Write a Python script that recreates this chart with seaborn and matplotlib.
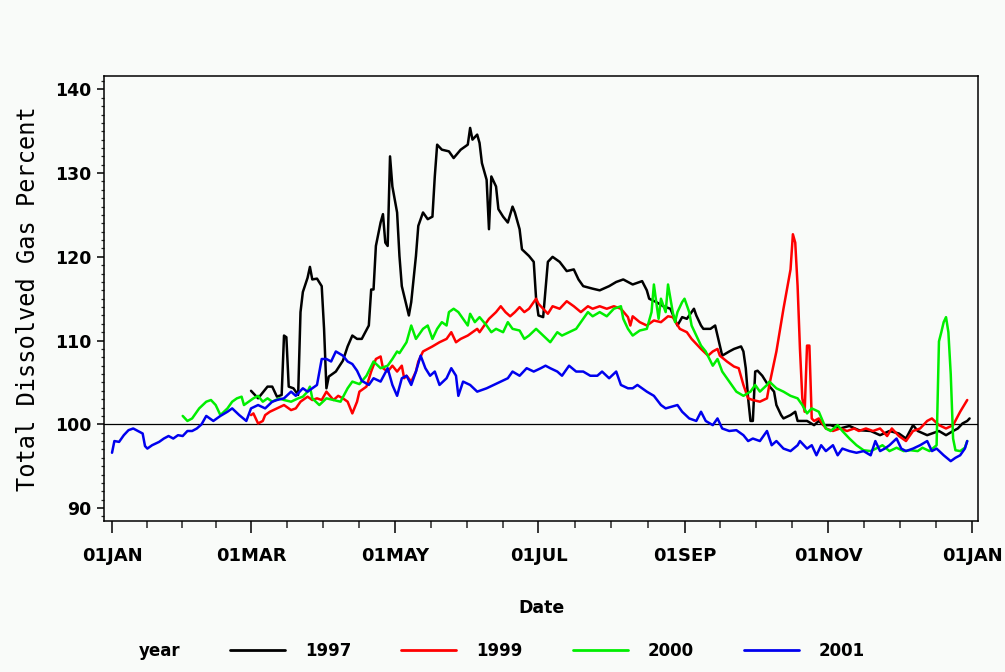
import matplotlib
matplotlib.use("Agg")
import matplotlib.pyplot as plt
from matplotlib.lines import Line2D
from matplotlib.ticker import FixedLocator, MultipleLocator
import pandas as pd
import seaborn as sns

# (day of year, 0 = 1 January; total dissolved gas percent) readings per season
season_1997 = [
    (59, 104.0), (62, 103.1), (66, 104.5), (68, 104.5), (70, 103.3), (72, 103.5),
    (73, 110.6), (74, 110.4), (75, 104.5), (77, 104.3), (79, 103.5), (80, 113.4),
    (81, 115.8), (83, 117.5), (84, 118.8), (85, 117.3), (87, 117.4), (89, 116.5),
    (90, 111.4), (91, 104.3), (92, 105.7), (95, 106.3), (98, 107.6), (100, 109.3),
    (102, 110.6), (104, 110.2), (106, 110.2), (109, 111.8), (110, 116.1), (111, 116.1),
    (112, 121.3), (114, 124.1), (115, 125.1), (116, 121.7), (117, 121.3), (118, 132.0),
    (119, 128.4), (121, 125.3), (122, 120.1), (123, 116.5), (126, 113.0), (127, 114.6),
    (129, 120.1), (130, 123.7), (132, 125.3), (134, 124.5), (136, 124.8), (137, 129.6),
    (138, 133.4), (140, 132.8), (143, 132.6), (145, 131.8), (148, 132.8), (151, 133.4),
    (152, 135.4), (153, 134.0), (155, 134.6), (156, 133.6), (157, 131.2), (159, 129.2),
    (160, 123.3), (161, 129.6), (163, 128.4), (164, 125.7), (166, 124.8), (168, 124.1),
    (170, 126.0), (171, 125.3), (173, 123.3), (174, 120.9), (177, 120.1), (179, 119.4),
    (180, 115.0), (181, 113.0), (183, 112.8), (185, 119.4), (187, 120.0), (190, 119.4),
    (193, 118.3), (196, 118.5), (198, 117.3), (200, 116.5), (204, 116.2), (207, 116.0),
    (211, 116.5), (214, 117.0), (217, 117.3), (221, 116.7), (225, 117.1), (227, 116.0),
    (228, 115.0), (231, 114.6), (234, 114.1), (237, 113.8), (240, 111.8), (242, 112.8),
    (244, 112.6), (247, 113.8), (248, 113.0), (250, 111.8), (251, 111.4), (254, 111.4),
    (256, 111.8), (258, 109.4), (259, 108.2), (262, 108.7), (264, 109.0), (267, 109.3),
    (268, 108.7), (269, 106.7), (270, 103.1), (271, 100.4), (272, 100.4), (273, 106.3),
    (274, 106.4), (276, 105.8), (278, 104.9), (281, 103.9), (282, 102.3), (284, 101.1),
    (285, 100.7), (288, 101.1), (290, 101.5), (291, 100.4), (295, 100.4), (298, 99.9),
    (300, 100.4), (302, 99.9), (305, 99.9), (309, 99.5), (313, 99.8), (317, 99.3),
    (322, 99.2), (326, 98.7), (330, 99.2), (334, 98.9), (337, 98.3), (340, 99.9),
    (342, 99.2), (346, 98.7), (348, 98.9), (351, 99.2), (354, 98.7), (357, 99.2),
    (359, 99.5), (361, 100.1), (363, 100.4), (364, 100.7),
]

season_1999 = [
    (59, 101.1), (60, 101.3), (62, 100.1), (64, 100.4), (65, 101.1), (67, 101.5),
    (70, 101.9), (73, 102.3), (76, 101.7), (78, 101.9), (80, 102.7), (83, 103.3),
    (85, 102.9), (87, 103.1), (89, 102.9), (91, 103.9), (94, 102.9), (96, 103.4),
    (98, 103.1), (100, 102.7), (102, 101.3), (104, 102.7), (105, 103.9), (108, 104.5),
    (110, 106.3), (112, 107.8), (114, 108.1), (115, 106.7), (117, 106.3), (119, 107.0),
    (121, 106.3), (123, 107.0), (124, 105.5), (125, 105.8), (127, 105.1), (129, 106.3),
    (130, 107.5), (132, 108.7), (134, 109.0), (136, 109.3), (139, 109.8), (142, 110.2),
    (144, 111.0), (146, 109.8), (148, 110.2), (151, 110.6), (153, 111.0), (155, 111.4),
    (156, 111.0), (158, 111.8), (160, 112.6), (163, 113.4), (165, 114.1), (167, 113.4),
    (169, 112.9), (171, 113.4), (173, 114.0), (175, 113.4), (177, 113.8), (180, 115.0),
    (181, 114.4), (183, 113.8), (185, 113.2), (187, 114.1), (190, 113.8), (193, 114.7),
    (196, 114.1), (199, 113.4), (202, 114.1), (204, 113.8), (207, 114.1), (210, 113.8),
    (213, 114.1), (216, 113.8), (219, 112.8), (220, 111.8), (221, 112.9), (224, 112.2),
    (227, 111.8), (230, 112.4), (233, 112.2), (236, 112.9), (238, 112.8), (241, 111.4),
    (244, 111.0), (246, 110.2), (250, 109.0), (253, 108.2), (255, 108.7), (257, 109.0),
    (258, 108.2), (261, 107.5), (264, 106.9), (266, 106.7), (268, 104.7), (270, 103.1),
    (272, 102.9), (275, 102.7), (278, 103.1), (279, 104.7), (282, 108.7), (285, 113.8),
    (288, 118.5), (289, 122.7), (290, 121.7), (291, 116.5), (292, 109.0), (293, 103.1),
    (294, 101.5), (295, 109.4), (296, 109.4), (297, 100.7), (298, 100.4), (300, 100.7),
    (303, 99.5), (306, 99.2), (309, 99.5), (312, 99.2), (315, 99.5), (317, 99.2),
    (320, 99.5), (323, 99.2), (326, 99.5), (329, 98.6), (331, 99.5), (334, 98.6),
    (337, 98.0), (340, 99.2), (343, 99.5), (346, 100.4), (348, 100.7), (351, 99.9),
    (354, 99.5), (357, 99.9), (360, 101.5), (363, 102.9),
]

season_2000 = [
    (30, 101.0), (32, 100.4), (34, 100.7), (37, 101.9), (40, 102.7), (42, 102.9),
    (44, 102.3), (46, 101.1), (49, 101.9), (51, 102.7), (53, 103.1), (55, 103.3),
    (56, 102.3), (58, 102.7), (60, 103.1), (62, 103.4), (64, 102.7), (66, 103.1),
    (68, 102.7), (71, 103.1), (73, 102.9), (76, 102.7), (79, 103.1), (81, 103.3),
    (83, 103.9), (84, 104.5), (85, 103.1), (88, 102.3), (91, 103.1), (94, 102.9),
    (97, 102.7), (100, 104.3), (102, 105.1), (105, 104.8), (108, 105.8), (111, 107.5),
    (114, 106.7), (117, 107.0), (119, 107.8), (121, 108.7), (122, 108.5), (125, 109.8),
    (127, 111.8), (129, 110.2), (132, 111.4), (134, 111.8), (136, 110.2), (138, 111.4),
    (140, 112.2), (142, 111.8), (143, 113.4), (145, 113.8), (147, 113.4), (149, 112.6),
    (151, 111.8), (152, 113.2), (154, 112.2), (156, 112.8), (159, 111.8), (161, 111.0),
    (163, 111.4), (166, 111.0), (168, 112.2), (170, 111.4), (173, 111.2), (175, 110.2),
    (177, 110.6), (180, 111.4), (183, 110.6), (186, 109.8), (189, 111.0), (191, 110.6),
    (194, 111.0), (197, 111.4), (199, 112.2), (202, 113.4), (204, 112.9), (207, 113.4),
    (210, 112.9), (213, 113.8), (216, 114.1), (217, 112.6), (219, 111.4), (221, 110.6),
    (224, 111.2), (227, 111.4), (229, 113.4), (230, 116.7), (231, 114.6), (232, 112.6),
    (233, 115.0), (235, 113.4), (236, 116.7), (238, 113.4), (239, 112.2), (240, 113.4),
    (242, 114.6), (243, 115.0), (245, 113.4), (246, 111.8), (248, 110.6), (250, 109.4),
    (252, 108.7), (255, 107.0), (257, 107.8), (259, 106.3), (262, 105.1), (265, 103.9),
    (268, 103.4), (271, 103.9), (273, 104.7), (275, 103.9), (278, 104.7), (279, 105.1),
    (282, 104.3), (285, 103.9), (288, 103.4), (291, 103.1), (293, 102.3), (295, 101.3),
    (297, 101.9), (300, 101.5), (303, 99.5), (305, 99.2), (308, 99.9), (310, 99.2),
    (313, 98.3), (316, 97.5), (319, 96.9), (322, 96.8), (325, 97.2), (327, 97.5),
    (330, 96.8), (333, 97.2), (336, 96.8), (339, 96.9), (342, 96.8), (344, 97.2),
    (347, 96.8), (350, 97.5), (351, 109.9), (352, 111.0), (353, 112.2), (354, 112.8),
    (355, 111.0), (356, 106.0), (357, 98.3), (358, 96.9), (360, 96.8), (362, 97.2),
    (363, 98.0),
]

season_2001 = [
    (0, 96.6), (1, 98.0), (3, 97.9), (5, 98.7), (7, 99.3), (9, 99.5), (11, 99.2),
    (13, 98.9), (14, 97.4), (15, 97.1), (17, 97.5), (20, 97.9), (22, 98.3), (24, 98.6),
    (26, 98.3), (28, 98.7), (30, 98.6), (32, 99.2), (34, 99.2), (36, 99.5), (38, 100.0),
    (40, 101.0), (43, 100.4), (46, 101.0), (49, 101.5), (51, 101.9), (54, 101.1),
    (57, 100.4), (59, 101.9), (62, 102.3), (65, 101.9), (68, 102.7), (70, 102.9),
    (73, 103.1), (76, 103.9), (78, 103.4), (81, 104.3), (83, 103.9), (85, 104.3),
    (87, 104.7), (89, 107.8), (91, 107.8), (93, 107.5), (95, 108.7), (98, 108.2),
    (100, 107.5), (102, 107.2), (104, 106.4), (106, 105.2), (109, 104.7), (111, 105.5),
    (114, 105.1), (117, 106.7), (119, 104.7), (121, 103.4), (123, 105.5), (125, 105.8),
    (127, 104.7), (129, 106.3), (131, 108.2), (133, 106.7), (135, 105.8), (137, 106.3),
    (139, 104.7), (142, 105.5), (144, 106.7), (146, 105.8), (147, 103.4), (149, 105.1),
    (152, 104.7), (155, 103.9), (159, 104.3), (162, 104.7), (165, 105.1), (168, 105.5),
    (170, 106.3), (173, 105.8), (176, 106.7), (179, 106.3), (182, 106.7), (184, 107.0),
    (186, 106.7), (189, 106.3), (191, 105.8), (194, 107.0), (197, 106.3), (200, 106.3),
    (203, 105.8), (206, 105.8), (208, 106.3), (211, 105.5), (214, 106.3), (216, 104.7),
    (219, 104.3), (221, 104.3), (223, 104.7), (227, 103.9), (230, 103.4), (233, 102.3),
    (235, 101.9), (240, 102.3), (242, 101.5), (245, 100.7), (248, 100.4), (250, 101.5),
    (252, 100.4), (255, 99.9), (257, 100.7), (259, 99.5), (262, 99.2), (265, 99.3),
    (268, 98.7), (270, 98.0), (272, 98.3), (275, 98.0), (278, 99.2), (280, 97.5),
    (282, 98.0), (285, 97.1), (288, 96.8), (291, 97.5), (292, 98.0), (295, 97.1),
    (297, 97.5), (299, 96.3), (301, 97.5), (303, 96.8), (306, 97.5), (308, 96.3),
    (310, 97.1), (313, 96.8), (316, 96.6), (319, 96.8), (322, 96.3), (324, 98.0),
    (326, 96.8), (328, 97.1), (330, 97.5), (333, 98.3), (335, 97.1), (337, 96.8),
    (340, 97.1), (343, 97.5), (346, 98.0), (348, 96.8), (350, 97.1), (353, 96.3),
    (356, 95.6), (358, 96.0), (360, 96.3), (362, 97.1), (363, 98.0),
]

years = ["1997", "1999", "2000", "2001"]
seasons = [season_1997, season_1999, season_2000, season_2001]
line_colors = ["#000000", "#ff0000", "#00ee00", "#0000ee"]

month_starts = [0, 59, 120, 181, 243, 304, 365]
month_labels = ["01JAN", "01MAR", "01MAY", "01JUL", "01SEP", "01NOV", "01JAN"]
y_ticks = [90, 100, 110, 120, 130, 140]

frames = []
for yr, readings in zip(years, seasons):
    d, v = zip(*readings)
    frames.append(pd.DataFrame({"day": d, "tdg": v, "year": yr}))
df = pd.concat(frames, ignore_index=True)

sns.set_theme(style="ticks")
plt.rcParams["font.family"] = ["DejaVu Sans"]
plt.rcParams["text.color"] = "black"

bg = "#f9fbf9"
fig = plt.figure(figsize=(10.05, 6.72), dpi=100)
fig.patch.set_facecolor(bg)
ax = fig.add_axes([0.1035, 0.2247, 0.8697, 0.6622])
ax.set_facecolor(bg)

palette = dict(zip(years, line_colors))
sns.lineplot(data=df, x="day", y="tdg", hue="year", hue_order=years,
             palette=palette, estimator=None, sort=True, linewidth=1.8,
             legend=False, ax=ax)
ax.axhline(100, color="black", linewidth=0.9, zorder=1)

ax.set_xlim(-3.4, 367.6)
ax.set_ylim(88.45, 141.6)

# date axis: labelled every second month, three minor ticks between
ax.xaxis.set_major_locator(FixedLocator(month_starts))
ax.set_xticklabels(month_labels)
minor_x = []
for a, b in zip(month_starts[:-1], month_starts[1:]):
    minor_x += [a + (b - a) * k / 4 for k in (1, 2, 3)]
ax.xaxis.set_minor_locator(FixedLocator(minor_x))

ax.yaxis.set_major_locator(FixedLocator(y_ticks))
ax.yaxis.set_minor_locator(MultipleLocator(1))

for side in ["top", "right", "bottom", "left"]:
    ax.spines[side].set_visible(True)
    ax.spines[side].set_color("black")
    ax.spines[side].set_linewidth(1.1)

ax.tick_params(axis="x", which="major", direction="out", length=8.5, width=1.1,
               pad=10, labelsize=13, colors="black")
ax.tick_params(axis="x", which="minor", direction="out", length=5, width=1.1)
ax.tick_params(axis="y", which="major", direction="out", length=5, width=1.1,
               pad=4, labelsize=12.5, colors="black")
ax.tick_params(axis="y", which="minor", direction="out", length=2.5, width=0.9)
for lab in ax.get_xticklabels() + ax.get_yticklabels():
    lab.set_fontweight("bold")

ax.set_xlabel("Date", fontsize=12.5, fontweight="bold", color="black")
ax.xaxis.label.set_va("center")
ax.xaxis.set_label_coords(0.5, -0.1955)
ax.set_ylabel("Total Dissolved Gas Percent", fontsize=17,
              family="DejaVu Sans Mono", color="black")
ax.yaxis.label.set_va("center")
ax.yaxis.set_label_coords(-0.087, 0.5)

# legend row along the bottom
legend_y = 1 - 651 / 672
fig.text(160 / 1005, legend_y, "year", ha="center", va="center",
         fontsize=12, fontweight="bold", color="black")
handles = [Line2D([0], [0], color=c, linewidth=2.0) for c in line_colors]
leg = fig.legend(handles, years, loc="center left",
                 bbox_to_anchor=(230 / 1005, legend_y), ncol=4, frameon=False,
                 borderpad=0, borderaxespad=0, handlelength=3.3,
                 handletextpad=1.2, columnspacing=3.0,
                 prop={"size": 12, "weight": "bold"})
for t in leg.get_texts():
    t.set_color("black")

fig.savefig("out.png", dpi=100, facecolor=bg)
